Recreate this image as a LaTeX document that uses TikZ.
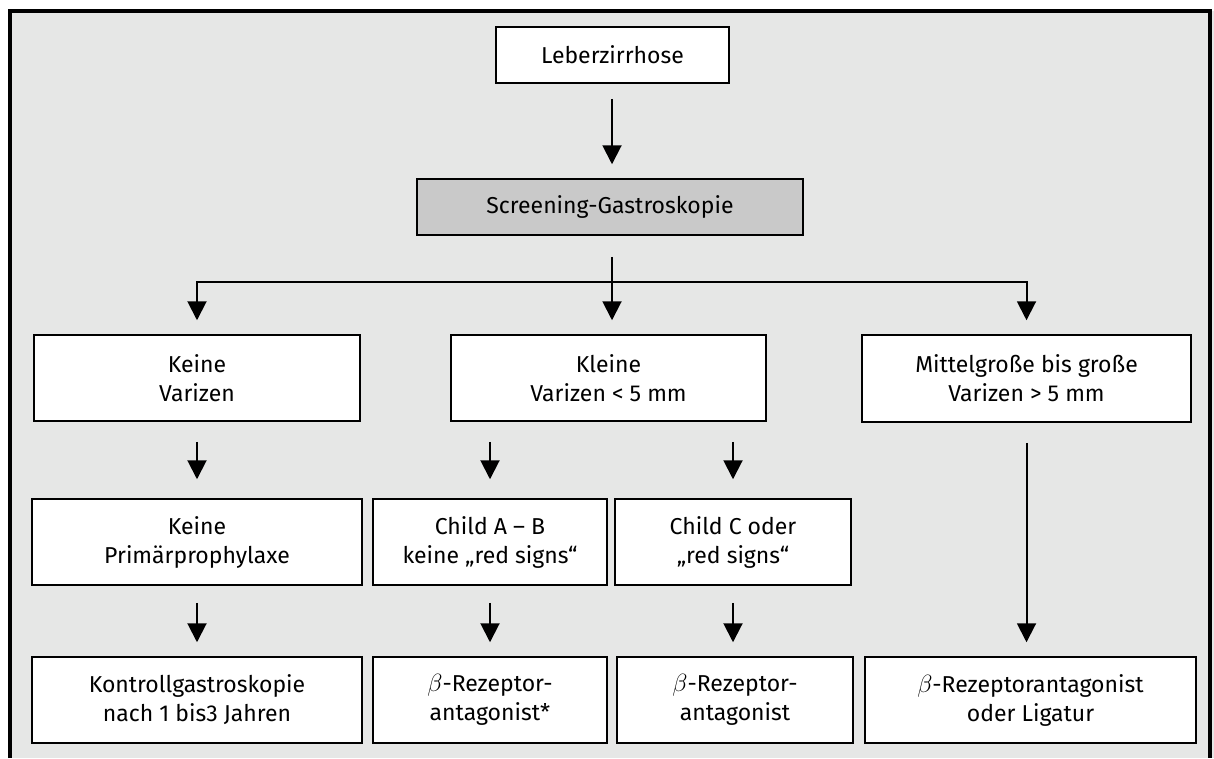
\documentclass[tikz,border=0pt]{standalone}
\usepackage{fontspec}
\setmainfont{Fira Sans}
\usetikzlibrary{arrows.meta}

\definecolor{bggray}{RGB}{230,231,230}
\definecolor{boxgray}{RGB}{201,201,201}

\tikzset{
  box/.style={draw=black, line width=1.5pt, fill=white, align=center, inner sep=0pt,
    font=\fontsize{23}{29}\selectfont},
  arr/.style={line width=2pt, -{Triangle[width=19pt,length=19pt]}},
}

\begin{document}
\begin{tikzpicture}[x=1pt,y=-1pt]
\useasboundingbox (0,0) rectangle (1214,758);
\fill[white] (0,0) rectangle (1214,758);
\fill[bggray] (10,11) rectangle (1214,758);
\draw[line width=4pt] (10,758) -- (10,11) -- (1210,11) -- (1210,758);

% top
\node[box, minimum width=233pt, minimum height=56pt] (lz) at (612.5,55) {Leberzirrhose};
\node[box, fill=boxgray, minimum width=386pt, minimum height=56pt] (sg) at (610,207) {Screening-Gastroskopie};

% second row
\node[box, minimum width=326pt, minimum height=86pt] (kv) at (197,378) {Keine\\Varizen};
\node[box, minimum width=315pt, minimum height=86pt] (kl) at (608.5,378) {Kleine\\Varizen < 5 mm};
\node[box, minimum width=329pt, minimum height=87pt] (mg) at (1026.5,378.5) {Mittelgroße bis große\\Varizen > 5 mm};

% third row
\node[box, minimum width=330pt, minimum height=86pt] (kp) at (197,542) {Keine\\Primärprophylaxe};
\node[box, minimum width=234pt, minimum height=86pt] (cab) at (490,542) {Child A – B\\keine „red signs“};
\node[box, minimum width=236pt, minimum height=86pt] (cc) at (733,542) {Child C oder\\„red signs“};

% bottom row
\node[box, minimum width=330pt, minimum height=86pt] (kg) at (197,700) {Kontrollgastroskopie\\nach 1 bis3 Jahren};
\node[box, minimum width=234pt, minimum height=86pt] (b1) at (490,700) {$\beta$-Rezeptor-\\antagonist*};
\node[box, minimum width=236pt, minimum height=86pt] (b2) at (735,700) {$\beta$-Rezeptor-\\antagonist};
\node[box, minimum width=331pt, minimum height=86pt] (b3) at (1030.5,700) {$\beta$-Rezeptorantagonist\\oder Ligatur};

% arrows
\coordinate (split) at (612,282);
\draw[arr, shorten <=15pt, shorten >=14pt] (lz.south -| split) -- (sg.north -| split);
\draw[arr, shorten <=21pt, shorten >=14pt] (sg.south -| split) -- (kl.north -| split);
\draw[arr, shorten >=14pt] (split) -| (kv.north);
\draw[arr, shorten >=14pt] (split) -| (mg.north);

\draw[arr, shorten <=20pt, shorten >=19pt] (kv) -- (kp);
\draw[arr, shorten <=20pt, shorten >=19pt] (kl.south -| cab.north) -- (cab.north);
\draw[arr, shorten <=20pt, shorten >=19pt] (kl.south -| cc.north) -- (cc.north);
\draw[arr, shorten <=20pt, shorten >=14pt] (mg) -- (mg |- b3.north);

\draw[arr, shorten <=17pt, shorten >=14pt] (kp) -- (kg);
\draw[arr, shorten <=17pt, shorten >=14pt] (cab) -- (b1);
\draw[arr, shorten <=17pt, shorten >=14pt] (cc) -- (cc |- b2.north);
\end{tikzpicture}
\end{document}
